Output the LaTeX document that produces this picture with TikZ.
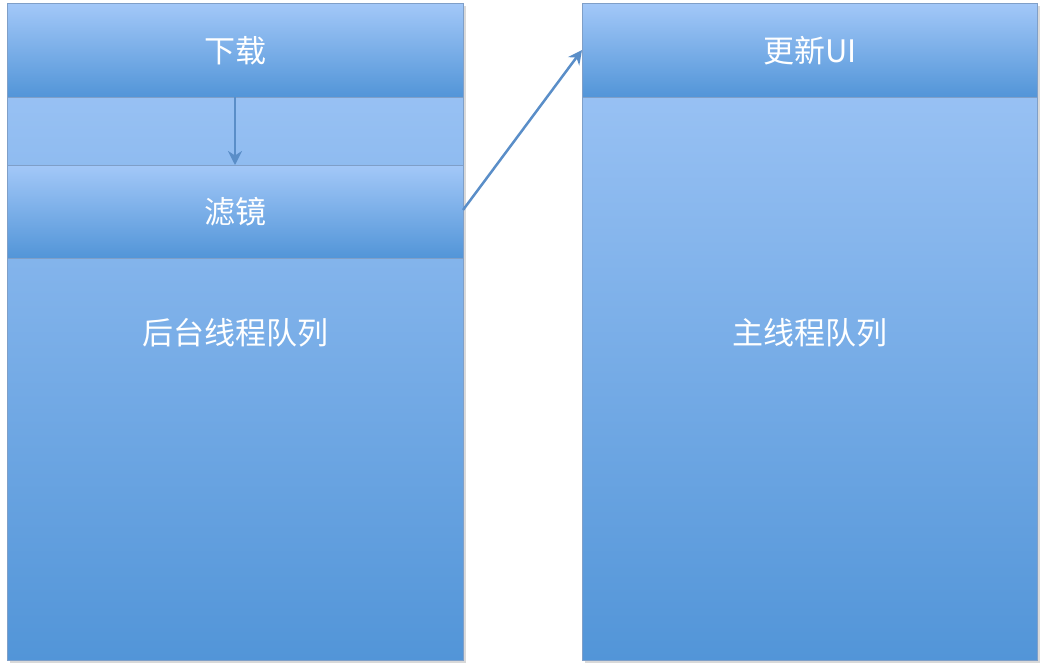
\documentclass[tikz,border=0pt]{standalone}
\usepackage{fontspec}
\setmainfont{Noto Sans CJK SC}
\usetikzlibrary{arrows.meta}
\definecolor{topc}{HTML}{A3C8F8}
\definecolor{botc}{HTML}{5295D8}
\definecolor{edgec}{HTML}{7F9FC8}
\definecolor{arrc}{HTML}{5A8EC8}
\tikzset{
 col/.style={draw=edgec,line width=0.8pt,top color=topc,bottom color=botc},
 bar/.style={draw=edgec,line width=0.8pt,top color=topc,bottom color=botc},
 lbl/.style={text=white,font=\fontsize{31}{34}\selectfont},
 conn/.style={draw=arrc,line width=2.5pt,-{Stealth[length=14pt,width=14pt]}}
}
\begin{document}
\begin{tikzpicture}[x=1pt,y=-1pt]
\useasboundingbox (0,0) rectangle (1047,672);
\fill[gray!30] (10,6) rectangle (466,663);
\fill[gray!30] (585,6) rectangle (1040,663);
\path[col] (7,3) rectangle (463,660);
\path[col] (582,3) rectangle (1037,660);
\node[lbl] (bg) at (235,333) {后台线程队列};
\node[lbl] (mq) at (810,333) {主线程队列};
\path[bar] (7,3) rectangle (463,97);
\path[bar] (7,165) rectangle (463,258);
\path[bar] (582,3) rectangle (1037,97);
\node[lbl] (dl) at (235,51) {下载};
\node[lbl] (fl) at (235,212) {滤镜};
\node[lbl] (ui) at (810,51) {更新UI};
\coordinate (dlb) at (235,97);
\coordinate (flt) at (235,165);
\coordinate (flr) at (463,210);
\coordinate (uil) at (582,50);
\draw[conn] (dlb) -- (flt);
\draw[conn] (flr) -- (uil);
\end{tikzpicture}
\end{document}
